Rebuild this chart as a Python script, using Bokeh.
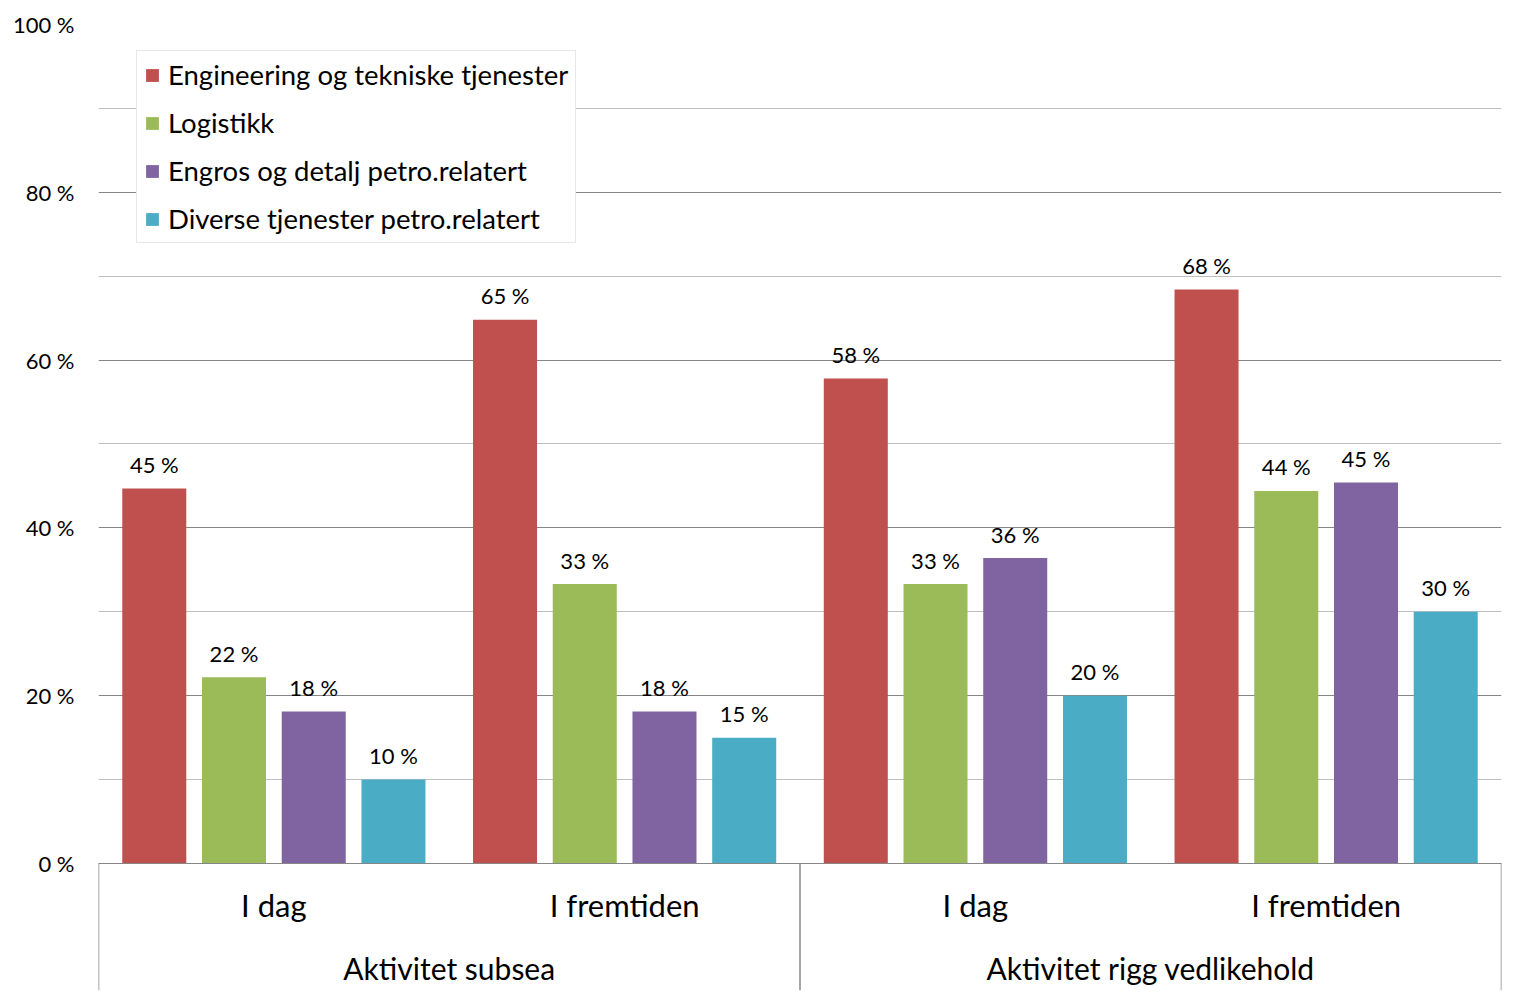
from bokeh.plotting import figure
from bokeh.models import (FactorRange, Range1d, ColumnDataSource, FixedTicker,
                          Legend, LegendItem, CustomJSTickFormatter)
from bokeh.transform import dodge
from bokeh.core.properties import value
from bokeh.embed import file_html
from bokeh.resources import INLINE

# ---- data ----
groups = ["Aktivitet subsea", "Aktivitet rigg vedlikehold"]
periods = ["I dag", "I fremtiden"]
series = ["Engineering og tekniske tjenester", "Logistikk",
          "Engros og detalj petro.relatert", "Diverse tjenester petro.relatert"]
colors = ["#C0504D", "#9BBB59", "#8064A2", "#4BACC6"]
# values in %, order: subsea/I dag, subsea/I fremtiden, rigg/I dag, rigg/I fremtiden
engineering = [44.7, 64.8, 57.8, 68.4]
logistikk = [22.2, 33.3, 33.3, 44.4]
engros = [18.1, 18.1, 36.4, 45.4]
diverse = [10.0, 15.0, 20.0, 30.0]
y_ticks = [0, 20, 40, 60, 80, 100]
y_minor = [10, 30, 50, 70, 90]

FONT = "Lato"
factors = [(g, pr) for g in groups for pr in periods]
values = [engineering, logistikk, engros, diverse]

p = figure(
    x_range=FactorRange(*factors, factor_padding=0, group_padding=0, range_padding=0),
    y_range=Range1d(-15.14, 100),
    width=1512, height=993,
    min_border_left=98, min_border_top=24, min_border_bottom=3, min_border_right=11,
    output_backend="svg", toolbar_location=None,
)
p.outline_line_color = None
p.background_fill_color = "white"
p.border_fill_color = "white"

bar_w = 0.1825
step = 0.2273
offsets = [-1.5 * step, -0.5 * step, 0.5 * step, 1.5 * step]

items = []
for name, vals, col, off in zip(series, values, colors, offsets):
    src = ColumnDataSource(dict(x=factors, top=vals,
                                lab=[f"{v:.0f} %" for v in vals]))
    r = p.vbar(x=dodge("x", off, range=p.x_range), top="top", width=bar_w,
               source=src, fill_color=col, line_color=None)
    p.text(x=dodge("x", off, range=p.x_range), y="top", text="lab", source=src,
           text_align="center", text_baseline="alphabetic", y_offset=-24,
           text_font=value(FONT), text_font_size="22px", text_color="black")
    items.append(LegendItem(label=name, renderers=[r]))

# category box separators below the axis (synthetic coordinates of the factor range)
p.segment(x0=[0, 2, 4], y0=[0, 0, 0], x1=[0, 2, 4], y1=[-15.14] * 3,
          line_color="#898989", line_width=1.5)

# y axis
p.yaxis.ticker = FixedTicker(ticks=y_ticks)
p.yaxis.formatter = CustomJSTickFormatter(code="return tick + ' %'")
p.yaxis.axis_line_color = None
p.yaxis.major_tick_line_color = None
p.yaxis.minor_tick_line_color = None
p.yaxis.major_tick_out = 0
p.yaxis.minor_tick_out = 0
p.yaxis.major_label_standoff = 24
p.yaxis.major_label_text_font = FONT
p.yaxis.major_label_text_font_size = "22px"
p.yaxis.major_label_text_color = "black"

p.ygrid.ticker = FixedTicker(ticks=y_ticks, minor_ticks=y_minor)
p.ygrid.grid_line_color = "#868686"
p.ygrid.minor_grid_line_color = "#BFBFBF"
p.xgrid.grid_line_color = None

# x axis (category axis drawn at y = 0)
xa = p.xaxis[0]
xa.fixed_location = 0
xa.axis_line_color = "#868686"
xa.major_tick_line_color = None
xa.minor_tick_line_color = None
xa.major_tick_out = 0
xa.major_tick_in = 0
xa.separator_line_color = None
xa.major_label_standoff = 23
xa.major_label_text_font = FONT
xa.major_label_text_font_size = "31px"
xa.major_label_text_color = "black"
xa.group_text_font = FONT
xa.group_text_font_size = "30px"
xa.group_text_color = "black"
xa.group_text_font_style = "normal"

legend = Legend(items=items, location=(38, 747))
legend.label_text_font = FONT
legend.label_text_font_size = "27.5px"
legend.label_text_color = "black"
legend.glyph_width = 16
legend.glyph_height = 16
legend.label_height = 30
legend.label_standoff = 8
legend.spacing = 15
legend.padding = 7
legend.margin = 0
legend.border_line_color = "#D0D0D0"
legend.background_fill_color = "white"
legend.background_fill_alpha = 1
p.add_layout(legend)

open("out.html", "w").write(file_html(p, INLINE))
